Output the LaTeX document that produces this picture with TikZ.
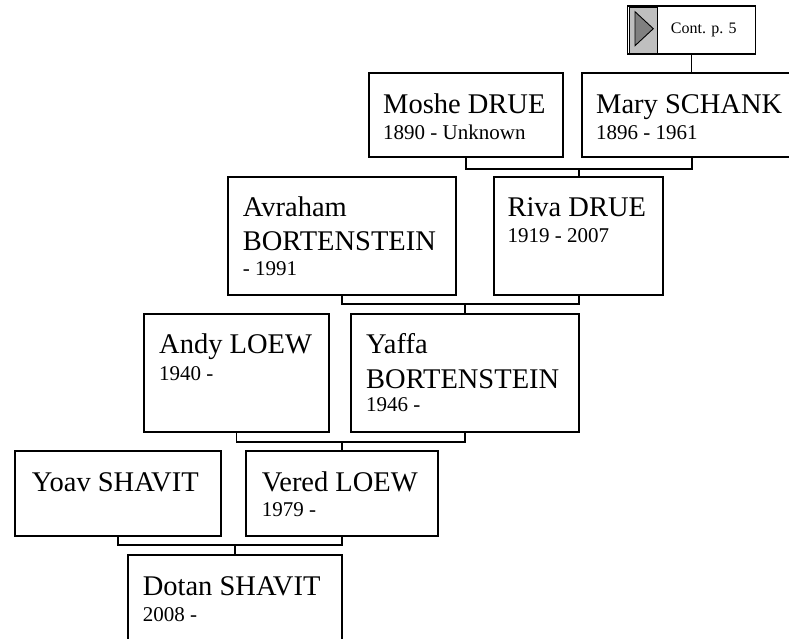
\documentclass[tikz,border=0pt]{standalone}
\usepackage{fontspec}
\setmainfont{Liberation Serif}
\begin{document}
\begin{tikzpicture}[x=1pt,y=-1pt,
  box/.style={draw=black,line width=1.8pt,fill=white,anchor=north west,inner sep=0pt,outer sep=0pt},
  nm/.style={anchor=base west,inner sep=0pt,font=\fontsize{28.5}{34}\selectfont},
  dt/.style={anchor=base west,inner sep=0pt,font=\fontsize{21}{25}\selectfont},
  link/.style={draw=black,line width=1.8pt}]
\useasboundingbox (0,0) rectangle (789,639);
\clip (0,0) rectangle (789,639);
% boxes
\node[box,minimum width=128pt,minimum height=48.6pt] (cont) at (627.5,5.7) {};
\node[draw=black,line width=0.9pt,fill=black!25,anchor=north west,minimum width=28pt,minimum height=46.6pt,inner sep=0pt] (contg) at (628.5,6.7) {};
\fill[black!50,draw=black,line width=0.9pt] (635,11.7) -- (653.3,28.7) -- (635,45.7) -- cycle;
\node[anchor=base west,inner sep=0pt,font=\fontsize{16}{19}\selectfont] (contt) at (670.7,33.5) {Cont. p. 5};

\node[box,minimum width=194.3pt,minimum height=83.7pt] (moshe) at (369,73.3) {};
\node[box,minimum width=220pt,minimum height=83.7pt] (mary) at (581.7,73.3) {};
\node[box,minimum width=227.4pt,minimum height=118.3pt] (avraham) at (228.3,176.7) {};
\node[box,minimum width=169.3pt,minimum height=118.3pt] (riva) at (494,176.7) {};
\node[box,minimum width=185pt,minimum height=118.3pt] (andy) at (144,314) {};
\node[box,minimum width=228pt,minimum height=118.3pt] (yaffa) at (351,314) {};
\node[box,minimum width=205.7pt,minimum height=85pt] (yoav) at (15,451) {};
\node[box,minimum width=191.7pt,minimum height=85pt] (vered) at (246,451) {};
\node[box,minimum width=213.4pt,minimum height=84.5pt] (dotan) at (128.3,555) {};

% texts
\node[nm] (moshen) at ([shift={(14,40)}]moshe.north west) {Moshe DRUE};
\node[dt] (moshed) at ([shift={(14,66.7)}]moshe.north west) {1890 - Unknown};
\node[nm] (maryn) at ([shift={(14.3,40)}]mary.north west) {Mary SCHANK};
\node[dt] (maryd) at ([shift={(14.3,66.7)}]mary.north west) {1896 - 1961};
\node[nm] (avrahamn1) at ([shift={(14.4,39.3)}]avraham.north west) {Avraham};
\node[nm] (avrahamn2) at ([shift={(14.4,73.3)}]avraham.north west) {BORTENSTEIN};
\node[dt] (avrahamd) at ([shift={(14.4,98.3)}]avraham.north west) {- 1991};
\node[nm] (rivan) at ([shift={(13.3,39.3)}]riva.north west) {Riva DRUE};
\node[dt] (rivad) at ([shift={(13.3,66)}]riva.north west) {1919 - 2007};
\node[nm] (andyn) at ([shift={(15,39.3)}]andy.north west) {Andy LOEW};
\node[dt] (andyd) at ([shift={(15,66)}]andy.north west) {1940 -};
\node[nm] (yaffan1) at ([shift={(15,39.3)}]yaffa.north west) {Yaffa};
\node[nm] (yaffan2) at ([shift={(15,74)}]yaffa.north west) {BORTENSTEIN};
\node[dt] (yaffad) at ([shift={(15,97.7)}]yaffa.north west) {1946 -};
\node[nm] (yoavn) at ([shift={(16.7,40.7)}]yoav.north west) {Yoav SHAVIT};
\node[nm] (veredn) at ([shift={(15.7,40)}]vered.north west) {Vered LOEW};
\node[dt] (veredd) at ([shift={(15.7,65)}]vered.north west) {1979 -};
\node[nm] (dotann) at ([shift={(14.3,40)}]dotan.north west) {Dotan SHAVIT};
\node[dt] (dotand) at ([shift={(14.3,66.7)}]dotan.north west) {2008 -};

% connectors
\draw[link] (cont.south) -- (cont.south |- mary.north);
\coordinate (j1) at (riva.north |- 0,169);
\draw[link] (moshe.south) |- (j1) -| (mary.south);
\draw[link] (j1) -- (riva.north);
\coordinate (j2) at (yaffa.north |- 0,304);
\draw[link] (avraham.south) |- (j2) -| (riva.south);
\draw[link] (j2) -- (yaffa.north);
\coordinate (j3) at (vered.north |- 0,441.7);
\draw[link] (andy.south) |- (j3) -| (yaffa.south);
\draw[link] (j3) -- (vered.north);
\coordinate (j4) at (dotan.north |- 0,545);
\draw[link] (yoav.south) |- (j4) -| (vered.south);
\draw[link] (j4) -- (dotan.north);
\end{tikzpicture}
\end{document}
